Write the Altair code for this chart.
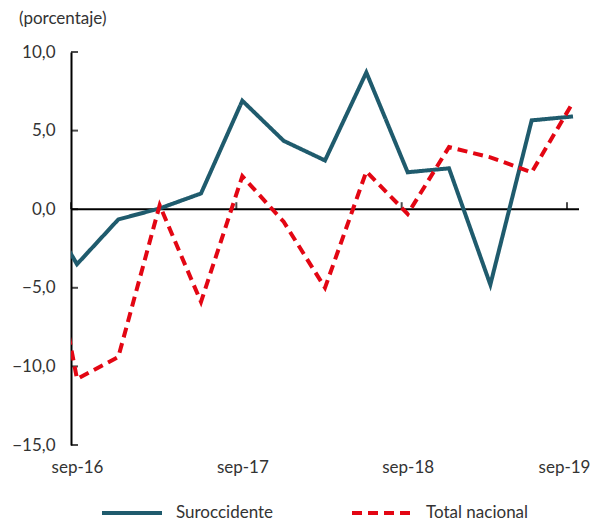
import altair as alt
import pandas as pd

periodos = ["jun-16", "sep-16", "dic-16", "mar-17", "jun-17", "sep-17", "dic-17",
            "mar-18", "jun-18", "sep-18", "dic-18", "mar-19", "jun-19", "sep-19"]
trimestre = list(range(-1, 13))
suroccidente = [1.0, -3.5, -0.65, 0.05, 1.0, 6.9, 4.35, 3.1, 8.7, 2.35, 2.6, -4.8, 5.65, 5.9]
total_nacional = [3.0, -10.8, -9.4, 0.25, -5.9, 2.1, -0.8, -5.0, 2.4, -0.3, 3.95, 3.3, 2.35, 6.8]
series = ["Suroccidente", "Total nacional"]
colores = ["#1f5b6d", "#e30613"]

x_etiquetas = ["sep-16", "sep-17", "sep-18", "sep-19"]
x_etiqueta_pos = [0, 4, 8, 12]
x_marcas = [-0.145, 3.855, 7.855, 11.855]
y_marcas = [-15, -10, -5, 0, 5, 10]
x_dominio = [-0.145, 12.145]
y_dominio = [-15, 10]

FONT = "Lato"
TXT = "#333333"

rows = []
for p, t, s, n in zip(periodos, trimestre, suroccidente, total_nacional):
    rows.append({"periodo": p, "t": t, "serie": series[0], "valor": s})
    rows.append({"periodo": p, "t": t, "serie": series[1], "valor": n})
df = pd.DataFrame(rows)

xscale = alt.Scale(domain=x_dominio, nice=False, zero=False)
yscale = alt.Scale(domain=y_dominio, nice=False)

label_expr = "[" + ",".join(f"'{l}'" for l in x_etiquetas) + "][round(datum.value/4)]"

leg = alt.Legend(orient="none", legendX=29, legendY=429, direction="horizontal",
                 title=None, symbolType="stroke", symbolSize=3600, symbolStrokeWidth=4,
                 labelFontSize=17, labelFont=FONT, labelColor=TXT, columnPadding=70,
                 labelOffset=12, columns=2)

lines = alt.Chart(df).mark_line(strokeWidth=4, clip=True).encode(
    x=alt.X("t:Q", scale=xscale,
            axis=alt.Axis(values=x_etiqueta_pos, labelExpr=label_expr, title=None,
                          domain=False, ticks=False, grid=False, labelFont=FONT,
                          labelFontSize=17, labelColor=TXT, labelPadding=14,
                          labelOffset={"condition": {"test": "datum.value == 12", "value": -9},
                                       "value": 0})),
    y=alt.Y("valor:Q", scale=yscale,
            axis=alt.Axis(values=y_marcas, title=None, grid=False, ticks=False,
                          domain=True, domainColor="black", domainWidth=2,
                          labelExpr="replace(format(datum.value, '.1f'), '.', ',')",
                          labelFont=FONT, labelFontSize=17, labelColor=TXT,
                          labelPadding=16)),
    color=alt.Color("serie:N", scale=alt.Scale(domain=series, range=colores), legend=leg),
    strokeDash=alt.StrokeDash("serie:N",
                              scale=alt.Scale(domain=series, range=[[1, 0], [10, 6]]),
                              legend=leg),
    detail="serie:N",
)

zero = alt.Chart(pd.DataFrame({"v": [0]})).mark_rule(color="black", strokeWidth=2).encode(
    y=alt.Y("v:Q", scale=yscale), x=alt.value(0), x2=alt.value(508)
)

xticks = alt.Chart(pd.DataFrame({"t": x_marcas, "v": [0] * len(x_marcas)})).mark_tick(
    orient="vertical", size=7, thickness=2, color="black", yOffset=-3.5
).encode(x=alt.X("t:Q", scale=xscale), y=alt.Y("v:Q", scale=yscale))

yticks = alt.Chart(pd.DataFrame({"v": y_marcas})).mark_tick(
    orient="horizontal", size=7, thickness=2, color="black", xOffset=3.5
).encode(y=alt.Y("v:Q", scale=yscale), x=alt.value(0))

titulo = alt.Chart(pd.DataFrame({"t": ["(porcentaje)"]})).mark_text(
    align="left", baseline="middle", font=FONT, fontSize=17, color=TXT
).encode(text="t:N", x=alt.value(-52), y=alt.value(-33))

chart = alt.layer(zero, xticks, yticks, lines, titulo).properties(
    width=508, height=393,
    autosize=alt.AutoSizeParams(type="none"),
    padding={"left": 63, "top": 44, "right": 14, "bottom": 76},
).configure_view(stroke=None).resolve_scale(x="shared", y="shared")

chart.save("out.html", embed_options={"renderer": "svg", "actions": False})
